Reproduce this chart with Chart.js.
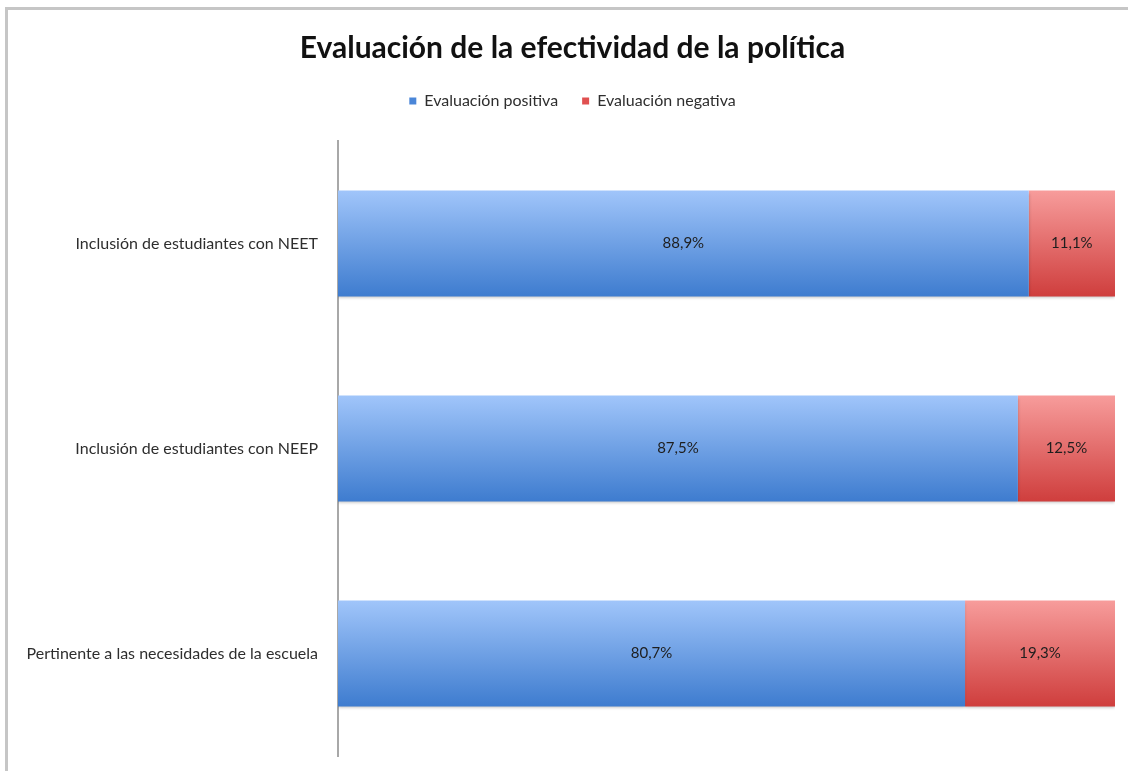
<!DOCTYPE html>
<html>
<head>
<meta charset="utf-8">
<script src="https://cdn.jsdelivr.net/npm/chart.js@4"></script>
<style>
  body { margin: 0; background: #fff; overflow: hidden; }
  #frame { position: absolute; left: 5px; top: 7px; width: 1200px; height: 1000px; border: 3px solid #c6c6c6; }
  #chart { position: absolute; left: 0; top: 0; }
</style>
</head>
<body>
<div id="frame"></div>
<canvas id="chart" width="1128" height="771"></canvas>
<script>
// Chart data
const categories = [
    'Inclusión de estudiantes con NEET',
    'Inclusión de estudiantes con NEEP',
    'Pertinente a las necesidades de la escuela'
];
const positiva = [88.9, 87.5, 80.7];
const negativa = [11.1, 12.5, 19.3];
const seriesNames = ['Evaluación positiva', 'Evaluación negativa'];

const FONT = 'Lato, "Open Sans", sans-serif';

// Vertical gradient per bar, light on top, dark at the bottom
function barGradient(top, bottom) {
    return (context) => {
        const chart = context.chart;
        if (!chart.chartArea || context.dataIndex === undefined) return bottom;
        const y = chart.scales.y;
        const centre = y.getPixelForValue(context.dataIndex);
        const half = (y.height / categories.length) * 0.516 / 2;
        const g = chart.ctx.createLinearGradient(0, centre - half, 0, centre + half);
        g.addColorStop(0, top);
        g.addColorStop(1, bottom);
        return g;
    };
}

// Extra room between legend and plot
const legendMargin = {
    id: 'legendMargin',
    beforeInit(chart) {
        const fit = chart.legend.fit;
        chart.legend.fit = function () {
            fit.bind(chart.legend)();
            this.height += 22;
        };
    }
};

// Let the long category labels use the left padding too
const labelRoom = {
    id: 'labelRoom',
    afterLayout(chart) {
        chart.scales.y.left = 0;
    }
};

// Soft shadow under bars
const barShadow = {
    id: 'barShadow',
    beforeDatasetsDraw(chart) {
        const ctx = chart.ctx;
        ctx.save();
        ctx.shadowColor = 'rgba(0,0,0,0.25)';
        ctx.shadowOffsetY = 2;
        ctx.shadowBlur = 3;
    },
    afterDatasetsDraw(chart) {
        chart.ctx.restore();
    }
};

// Value labels in the middle of each segment
const valueLabels = {
    id: 'valueLabels',
    afterDatasetsDraw(chart) {
        const ctx = chart.ctx;
        ctx.save();
        ctx.font = '15px ' + FONT;
        ctx.fillStyle = '#1e1e1e';
        ctx.textAlign = 'center';
        ctx.textBaseline = 'middle';
        chart.data.datasets.forEach((ds, i) => {
            chart.getDatasetMeta(i).data.forEach((bar, j) => {
                const x = (bar.x + bar.base) / 2;
                ctx.fillText(ds.data[j].toFixed(1).replace('.', ',') + '%', x, bar.y);
            });
        });
        ctx.restore();
    }
};

new Chart(document.getElementById('chart'), {
    type: 'bar',
    data: {
        labels: categories,
        datasets: [{
            label: seriesNames[0],
            data: positiva,
            backgroundColor: barGradient('#a0c5fa', '#3e7ccf'),
            legendColor: '#4a86d8',
            barPercentage: 0.516,
            categoryPercentage: 1
        }, {
            label: seriesNames[1],
            data: negativa,
            backgroundColor: barGradient('#f79c9b', '#cf3e3d'),
            legendColor: '#e05050',
            barPercentage: 0.516,
            categoryPercentage: 1
        }]
    },
    options: {
        indexAxis: 'y',
        responsive: false,
        animation: false,
        layout: { padding: { left: 30, right: 13, bottom: 15 } },
        scales: {
            x: {
                stacked: true,
                min: 0,
                max: 100,
                display: false
            },
            y: {
                stacked: true,
                grid: { display: false, drawTicks: true, tickLength: 20 },
                border: { display: true, color: '#a8a8a8', width: 2 },
                ticks: {
                    color: '#2e2e2e',
                    font: { family: FONT, size: 16 },
                    padding: 0
                },
                afterFit(scale) { scale.width = 308; }
            }
        },
        plugins: {
            title: {
                display: true,
                text: 'Evaluación de la efectividad de la política',
                color: '#111',
                font: { family: FONT, size: 30, weight: 'bold' },
                padding: { top: 30, bottom: 3 }
            },
            legend: {
                labels: {
                    font: { family: FONT, size: 16 },
                    color: '#2e2e2e',
                    boxWidth: 7,
                    boxHeight: 7,
                    padding: 24,
                    generateLabels(chart) {
                        return chart.data.datasets.map((ds, i) => ({
                            text: ds.label,
                            fillStyle: ds.legendColor,
                            strokeStyle: ds.legendColor,
                            lineWidth: 0,
                            fontColor: '#2e2e2e',
                            datasetIndex: i
                        }));
                    }
                }
            },
            tooltip: { enabled: false }
        }
    },
    plugins: [legendMargin, labelRoom, barShadow, valueLabels]
});
</script>
</body>
</html>
